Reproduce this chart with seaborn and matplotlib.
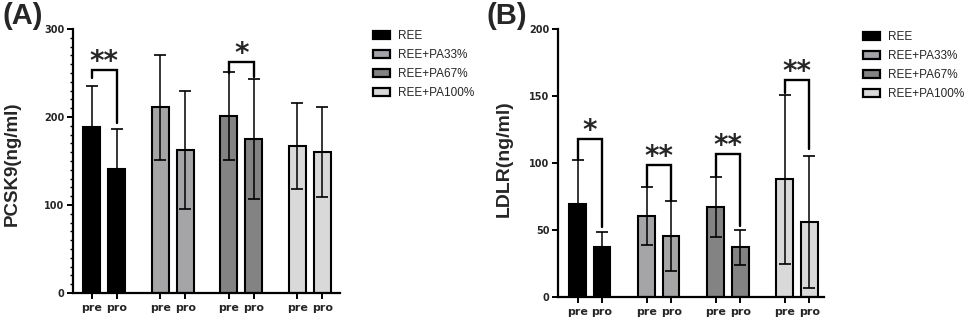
import numpy as np
import pandas as pd
import seaborn as sns
import matplotlib.pyplot as plt
from matplotlib.patches import Patch
from matplotlib.ticker import MultipleLocator

groups = ["REE", "REE+PA33%", "REE+PA67%", "REE+PA100%"]
timepoints = ["pre", "pro"]
colors = ["#000000", "#a4a4a8", "#838383", "#d9d9d9"]

pcsk9_pre = [189, 211, 201, 167]
pcsk9_pre_sd = [46, 60, 50, 49]
pcsk9_pro = [141, 163, 175, 160]
pcsk9_pro_sd = [45, 67, 68, 51]
pcsk9_sig = ["**", "", "*", ""]
# bracket top, left-leg bottom, right-leg bottom
pcsk9_brackets = [(253, 244, 193), None, (263, 250, 246), None]

ldlr_pre = [69.5, 60.5, 67, 88]
ldlr_pre_sd = [33, 21.5, 22.5, 63]
ldlr_pro = [37.5, 45.5, 37, 56]
ldlr_pro_sd = [11, 26, 13, 49]
ldlr_sig = ["*", "**", "**", "**"]
ldlr_brackets = [(118, 103, 52), (98.6, 82.5, 72), (106.5, 90, 52.7), (162, 152.5, 110.6)]

sns.set_theme(style="ticks")
plt.rcParams["font.family"] = ["Liberation Sans", "DejaVu Sans"]

fig = plt.figure(figsize=(9.69, 3.23), dpi=100)
axA = fig.add_axes([73/969, 1-293/323, 267/969, 264/323])
axB = fig.add_axes([558/969, 1-297/323, 266/969, 268/323])


def panel(ax, pre, pre_sd, pro, pro_sd, sig, brackets, gap, xlim, ylim,
          major, minor, star_off):
    pos, vals, sds, grp, labs = [], [], [], [], []
    for i, g in enumerate(groups):
        for j, (v, s) in enumerate(((pre[i], pre_sd[i]), (pro[i], pro_sd[i]))):
            pos.append(i * gap + j)
            vals.append(v)
            sds.append(s)
            grp.append(g)
            labs.append(timepoints[j])
    df = pd.DataFrame({"x": pos, "value": vals, "group": grp})
    sns.barplot(data=df, x="x", y="value", hue="group", hue_order=groups,
                palette=colors, native_scale=True, dodge=False, width=0.68,
                edgecolor="black", linewidth=1.5, errorbar=None, legend=False,
                ax=ax)
    ax.errorbar(pos, vals, yerr=sds, fmt="none", ecolor="black",
                elinewidth=1.1, capsize=4, capthick=1.2, zorder=3)
    for i, b in enumerate(brackets):
        if b is None:
            continue
        top, lb, rb = b
        x0, x1 = i * gap, i * gap + 1
        ax.plot([x0, x0, x1, x1], [lb, top, top, rb], color="black", lw=1.7,
                solid_joinstyle="miter", zorder=4, clip_on=False)
        ax.text((x0 + x1) / 2, top + star_off, sig[i], ha="center", va="center",
                fontsize=20, fontweight="bold", family="DejaVu Sans")
    ax.set_xlim(*xlim)
    ax.set_ylim(*ylim)
    ax.set_xticks(pos)
    ax.set_xticklabels(labs, fontsize=8, fontweight="bold", family="DejaVu Sans")
    ax.yaxis.set_major_locator(MultipleLocator(major))
    if minor:
        ax.yaxis.set_minor_locator(MultipleLocator(minor))
    for lab in ax.get_yticklabels():
        lab.set_fontweight("bold")
        lab.set_family("DejaVu Sans")
        lab.set_fontsize(7)
    ax.set_xlabel("")
    ax.set_ylabel("")
    sns.despine(ax=ax)
    for s in ("left", "bottom"):
        ax.spines[s].set_linewidth(1.6)
        ax.spines[s].set_color("black")
    ax.tick_params(axis="both", which="major", length=4, width=1.4, color="black", pad=2)
    ax.tick_params(axis="y", which="minor", length=2.5, width=1.0, color="black")
    ax.tick_params(axis="x", pad=3)


panel(axA, pcsk9_pre, pcsk9_pre_sd, pcsk9_pro, pcsk9_pro_sd, pcsk9_sig,
      pcsk9_brackets, 2.74, (-0.75, 9.93), (0, 300), 100, 10, 9)
panel(axB, ldlr_pre, ldlr_pre_sd, ldlr_pro, ldlr_pro_sd, ldlr_sig,
      ldlr_brackets, 2.82, (-0.8, 10.06), (0, 200), 50, None, 6)

fig.text(12.5/969, 1-164/323, "PCSK9(ng/ml)", rotation=90, ha="center", va="center",
         fontsize=13.5, fontweight="bold")
fig.text(504/969, 1-159/323, "LDLR(ng/ml)", rotation=90, ha="center", va="center",
         fontsize=14, fontweight="bold")
fig.text(23/969, 1-16/323, "(A)", ha="center", va="center", fontsize=21, fontweight="bold")
fig.text(507/969, 1-16/323, "(B)", ha="center", va="center", fontsize=21, fontweight="bold")

handles = [Patch(facecolor=c, edgecolor="black", linewidth=1.6) for c in colors]
for lx, ly in ((373, 30), (863, 31)):
    fig.legend(handles, groups, loc="upper left", bbox_to_anchor=(lx/969, 1-ly/323),
               bbox_transform=fig.transFigure, frameon=False, fontsize=8.5,
               handlelength=1.4, handleheight=0.6, handletextpad=0.7,
               labelspacing=0.6, borderpad=0, borderaxespad=0)

fig.savefig("out.png", dpi=100)
